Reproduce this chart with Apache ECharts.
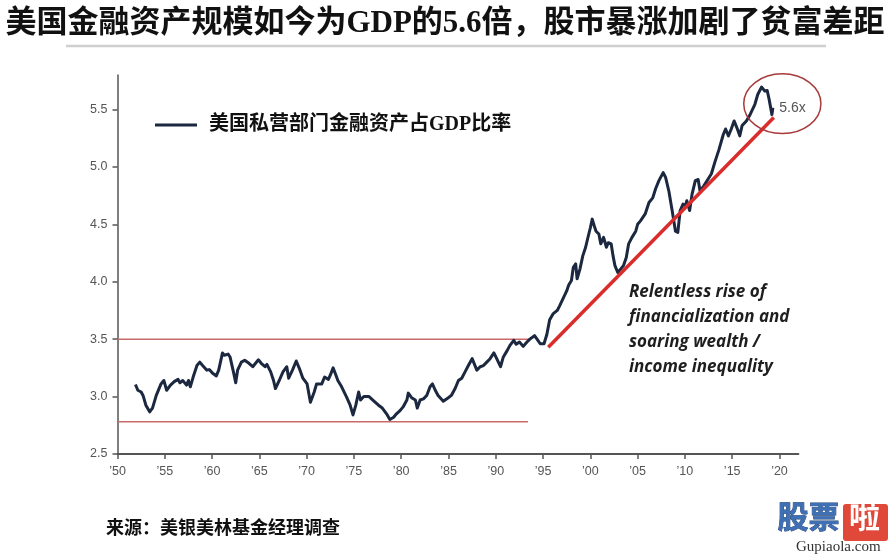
<!DOCTYPE html>
<html>
<head>
<meta charset="utf-8">
<script src="https://cdn.jsdelivr.net/npm/echarts@6/dist/echarts.min.js"></script>
<style>
html,body{margin:0;padding:0;background:#fff;}
#c{width:890px;height:557px;}
</style>
</head>
<body>
<div id="c"></div>
<script>
// ---- data ----
const titleText = '美国金融资产规模如今为GDP的5.6倍，股市暴涨加剧了贫富差距';
const seriesName = '美国私营部门金融资产占GDP比率';
const sourceText = '来源：美银美林基金经理调查';
const annotationLines = ['Relentless rise of', 'financialization and', 'soaring wealth /', 'income inequality'];
const yTicks = [2.5, 3.0, 3.5, 4.0, 4.5, 5.0, 5.5];
const xTicks = [1950, 1955, 1960, 1965, 1970, 1975, 1980, 1985, 1990, 1995, 2000, 2005, 2010, 2015, 2020];

const years = [
1951.9,1952.15,1952.5,1952.7,1953.0,1953.4,1953.7,1954.1,1954.6,1954.9,
1955.2,1955.6,1956.0,1956.4,1956.6,1956.9,1957.3,1957.5,1957.7,1958.0,
1958.4,1958.7,1959.0,1959.45,1959.7,1960.1,1960.45,1960.7,1961.1,1961.3,
1961.7,1961.9,1962.3,1962.5,1962.7,1963.1,1963.45,1963.9,1964.3,1964.6,
1964.9,1965.2,1965.6,1965.8,1966.2,1966.5,1966.7,1967.1,1967.5,1967.9,
1968.1,1968.5,1968.9,1969.3,1969.6,1970.05,1970.4,1970.8,1971.05,1971.6,
1971.9,1972.3,1972.5,1972.8,1973.1,1973.3,1973.7,1974.2,1974.6,1974.9,
1975.2,1975.5,1975.7,1976.05,1976.6,1977.0,1977.6,1978.0,1978.45,1978.8,
1979.2,1979.5,1979.9,1980.2,1980.6,1980.75,1981.1,1981.5,1981.7,1982.0,
1982.35,1982.7,1983.05,1983.3,1983.6,1983.9,1984.45,1984.98,1985.3,1985.7,
1986.05,1986.4,1986.75,1987.1,1987.5,1987.7,1988.0,1988.35,1988.7,1989.05,
1989.4,1989.8,1990.1,1990.5,1990.8,1991.2,1991.5,1991.9,1992.15,1992.5,
1992.9,1993.3,1993.6,1994.1,1994.4,1994.7,1995.1,1995.4,1995.7,1996.05,
1996.5,1996.75,1997.1,1997.5,1997.7,1998.0,1998.2,1998.45,1998.6,1998.9,
1999.2,1999.5,1999.7,2000.0,2000.2,2000.4,2000.6,2000.9,2001.1,2001.4,
2001.7,2001.9,2002.2,2002.4,2002.6,2002.9,2003.2,2003.5,2003.8,2004.05,
2004.4,2004.8,2005.0,2005.3,2005.8,2006.2,2006.6,2006.9,2007.25,2007.7,
2007.95,2008.3,2008.65,2009.0,2009.25,2009.5,2009.8,2010.05,2010.2,2010.5,
2010.75,2011.1,2011.4,2011.6,2012.0,2012.35,2012.8,2013.2,2013.6,2014.05,
2014.3,2014.6,2014.9,2015.2,2015.5,2015.8,2016.05,2016.5,2016.9,2017.4,
2017.7,2018.1,2018.45,2018.7,2018.9,2019.1,2019.2,2019.3
];
const ratio = [
3.105,3.055,3.04,3.01,2.925,2.867,2.90,3.01,3.11,3.14,
3.055,3.10,3.13,3.15,3.12,3.14,3.10,3.14,3.085,3.17,
3.27,3.30,3.27,3.23,3.235,3.20,3.18,3.23,3.38,3.36,
3.37,3.345,3.20,3.12,3.23,3.30,3.316,3.29,3.26,3.29,
3.32,3.29,3.26,3.28,3.215,3.14,3.07,3.14,3.215,3.26,
3.16,3.23,3.31,3.23,3.16,3.11,2.95,3.04,3.11,3.11,
3.17,3.15,3.186,3.25,3.186,3.14,3.085,3.0,2.925,2.84,
2.925,3.04,2.97,3.0,3.0,2.97,2.925,2.90,2.85,2.80,
2.82,2.85,2.88,2.91,2.97,3.03,2.99,2.97,2.90,2.97,
2.98,3.01,3.085,3.11,3.055,3.01,2.96,2.99,3.01,3.07,
3.14,3.16,3.215,3.27,3.33,3.316,3.23,3.26,3.27,3.30,
3.33,3.38,3.33,3.26,3.345,3.40,3.446,3.49,3.455,3.475,
3.437,3.475,3.50,3.53,3.495,3.46,3.46,3.54,3.67,3.72,
3.75,3.79,3.85,3.92,3.97,4.01,4.126,4.155,4.025,4.11,
4.225,4.30,4.37,4.47,4.545,4.49,4.44,4.415,4.33,4.386,
4.30,4.34,4.33,4.225,4.14,4.08,4.11,4.14,4.21,4.33,
4.386,4.44,4.50,4.53,4.59,4.69,4.73,4.81,4.88,4.95,
4.91,4.79,4.62,4.44,4.43,4.62,4.676,4.66,4.705,4.62,
4.76,4.88,4.89,4.79,4.835,4.88,4.94,5.05,5.15,5.28,
5.33,5.27,5.33,5.40,5.34,5.27,5.36,5.40,5.457,5.545,
5.63,5.695,5.66,5.665,5.59,5.58,5.455,5.515
];
// reference lines and trend line (data coordinates)
const upperBandYears = [1950, 1993.4];
const upperBandValue = 3.5;
const lowerBandYears = [1950, 1993.4];
const lowerBandValue = 2.78;
const trendYears = [1995.55, 2019.4];
const trendValues = [3.43, 5.43];
// highlight ellipse (data coords)
const circleCenter = [2020.3, 5.55];
const circleRadius = [4.08, 0.26];
const circleLabel = '5.6x';

const chart = echarts.init(document.getElementById('c'));
const mainData = years.map((y, i) => [y, ratio[i]]);
const serifCJK = '"Liberation Serif", "DejaVu Serif", "Noto Sans CJK SC", serif';

chart.setOption({
  animation: false,
  backgroundColor: '#fff',
  title: {
    text: titleText,
    left: 'center',
    top: 3,
    textStyle: { fontFamily: serifCJK, fontSize: 31, fontWeight: 'bold', color: '#111' }
  },
  legend: {
    data: [seriesName],
    left: 150,
    top: 110,
    icon: 'rect',
    itemWidth: 42,
    itemHeight: 3,
    textStyle: { fontFamily: serifCJK, fontSize: 20, fontWeight: 'bold', color: '#111', padding: [0, 0, 0, 7] }
  },
  grid: { left: 117.5, right: 91.6, top: 75, bottom: 103 },
  xAxis: {
    type: 'value', min: 1950, max: 2022,
    axisLine: { onZero: false, lineStyle: { color: '#555', width: 2 } },
    axisTick: { show: true, length: 5, lineStyle: { color: '#555', width: 1.5 }, customValues: xTicks },
    axisLabel: {
      customValues: xTicks, margin: 11, color: '#555', fontSize: 12.5, fontFamily: '"Liberation Sans", Arial, sans-serif',
      formatter: v => '\u2019' + String(v).slice(2)
    },
    splitLine: { show: false }
  },
  yAxis: {
    type: 'value', min: 2.5, max: 5.8,
    axisLine: { show: true, onZero: false, lineStyle: { color: '#555', width: 1.5 } },
    axisTick: { show: true, length: 5, lineStyle: { color: '#555', width: 1.5 }, customValues: yTicks },
    axisLabel: {
      customValues: yTicks, margin: 10, color: '#555', fontSize: 12.5, fontFamily: '"Liberation Sans", Arial, sans-serif',
      formatter: v => v.toFixed(1)
    },
    splitLine: { show: false }
  },
  series: [
    {
      name: 'upper', type: 'line', silent: true, showSymbol: false, z: 1,
      data: upperBandYears.map(y => [y, upperBandValue]),
      lineStyle: { color: '#c96a6a', width: 1.5 }
    },
    {
      name: 'lower', type: 'line', silent: true, showSymbol: false, z: 1,
      data: lowerBandYears.map(y => [y, lowerBandValue]),
      lineStyle: { color: '#c96a6a', width: 1.5 }
    },
    {
      name: seriesName, type: 'line', showSymbol: false, z: 3,
      data: mainData,
      itemStyle: { color: '#1b2840' },
      lineStyle: { color: '#1b2840', width: 3, join: 'round' }
    },
    {
      name: 'trend', type: 'line', silent: true, showSymbol: false, z: 4,
      data: trendYears.map((y, i) => [y, trendValues[i]]),
      lineStyle: { color: '#db2c2c', width: 3.5 }
    }
  ]
});

const c0 = chart.convertToPixel({ gridIndex: 0 }, circleCenter);
const c1 = chart.convertToPixel({ gridIndex: 0 }, [circleCenter[0] + circleRadius[0], circleCenter[1] + circleRadius[1]]);
const rx = Math.abs(c1[0] - c0[0]), ry = Math.abs(c1[1] - c0[1]);

const annotationGraphics = annotationLines.map((t, i) => ({
  type: 'text', left: 629, top: 284 + i * 25,
  style: { text: t, fill: '#1e1e1e', font: 'italic bold 17px "Open Sans", Lato, sans-serif' }
}));

chart.setOption({
  graphic: [
    { type: 'line', shape: { x1: 66, y1: 46, x2: 826, y2: 46 }, style: { stroke: '#cfcfcf', lineWidth: 2.5 } },
    { type: 'ellipse', shape: { cx: c0[0], cy: c0[1], rx: rx, ry: ry }, style: { fill: 'none', stroke: '#a83a3a', lineWidth: 1.5 }, z: 10 },
    { type: 'text', x: c0[0] - 3, y: c0[1] + 4, style: { text: circleLabel, fill: '#555', font: '14px "Liberation Sans", Arial, sans-serif', verticalAlign: 'middle' }, z: 10 },
    ...annotationGraphics,
    { type: 'text', left: 106, top: 520, style: { text: sourceText, fill: '#111', font: 'bold 18px "Liberation Serif", "Noto Sans CJK SC", serif' } },
    { type: 'text', left: 777, top: 500, style: { text: '股票', fill: '#3f6fb5', stroke: '#23406e', lineWidth: 0.8, font: 'bold 31px "Noto Sans CJK SC", sans-serif' } },
    { type: 'rect', shape: { x: 843, y: 504, width: 45, height: 37, r: 3 }, style: { fill: '#e0493a' } },
    { type: 'text', left: 849, top: 501, style: { text: '啦', fill: '#fff', font: 'bold 31px "Noto Sans CJK SC", sans-serif' } },
    { type: 'text', left: 796, top: 540, style: { text: 'Gupiaola.com', fill: '#333', font: '15px "Liberation Serif", serif' } }
  ]
});
</script>
</body>
</html>
